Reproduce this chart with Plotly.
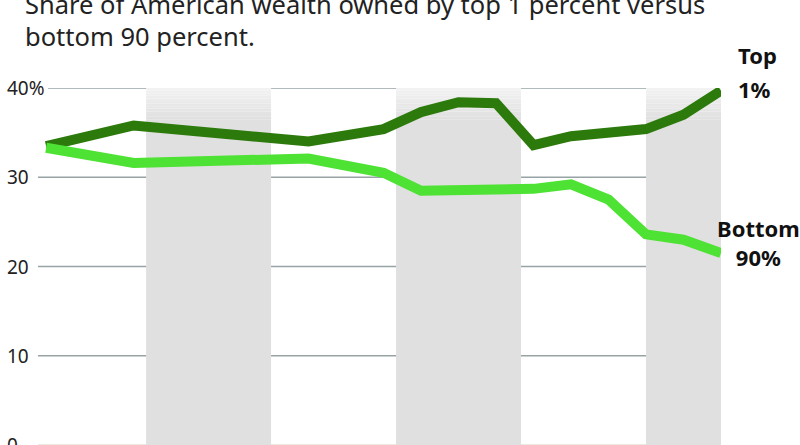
import plotly.graph_objects as go

# ---- data ----
years = [1962, 1969, 1983, 1989, 1992, 1995, 1998, 2001, 2004, 2007, 2010, 2013, 2016]
top1 = [33.5, 35.8, 34.0, 35.4, 37.3, 38.4, 38.3, 33.6, 34.6, 34.9, 35.4, 37.0, 39.7]
bottom90 = [33.3, 31.6, 32.1, 30.5, 28.5, 28.5, 28.5, 28.7, 29.2, 27.5, 23.6, 23.0, 21.5]
y_ticks = [0, 10, 20, 30, 40]
y_tick_labels = ["0", "10", "20", "30", "40%"]
bands = [(1970, 1980), (1990, 2000), (2010, 2016)]
title_lines = ["Share of American wealth owned by top 1 percent versus",
               "bottom 90 percent."]

W, H = 800, 445
L, R, T, B = 38, 79, 88, 0
PW, PH = W - L - R, H - T - B

def px(x):
    return (x - L) / PW

def py(y):
    return (H - B - y) / PH

FONT = "Noto Sans"
DARK = "#2c7a0c"
LIGHT = "#4ee234"
GRID = "#97a3a4"

fig = go.Figure()
fig.add_trace(go.Scatter(x=years, y=top1, mode="lines",
                         line=dict(color=DARK, width=10), hoverinfo="skip"))
fig.add_trace(go.Scatter(x=years, y=bottom90, mode="lines",
                         line=dict(color=LIGHT, width=10), hoverinfo="skip"))

shapes = []
# shaded bands with a soft fade at the top
for x0, x1 in bands:
    shapes.append(dict(type="rect", xref="x", yref="y", x0=x0, x1=x1, y0=0, y1=36.5,
                       fillcolor="#e0e0e0", line=dict(width=0), layer="below"))
    n = 12
    for i in range(n):
        ya = 36.5 + 3.5 * i / n
        yb = 36.5 + 3.5 * (i + 1) / n
        g = int(0xe0 + (0xf3 - 0xe0) * (i + 0.5) / n)
        shapes.append(dict(type="rect", xref="x", yref="y", x0=x0, x1=x1, y0=ya, y1=yb,
                           fillcolor=f"rgb({g},{g},{g})", line=dict(width=0), layer="below"))
# gridlines
for v in y_ticks:
    x0 = px(48) if v == 40 else 0
    col = "#e6e2d6" if v == 0 else GRID
    shapes.append(dict(type="line", xref="paper", yref="y", x0=x0, x1=1, y0=v, y1=v,
                       line=dict(color=col, width=1.6), layer="below"))

ann = []
for v, t in zip(y_ticks, y_tick_labels):
    ann.append(dict(xref="paper", yref="y", x=px(5), y=v, text=t, showarrow=False,
                    xanchor="left", yanchor="middle",
                    font=dict(family=FONT, size=19, color="#222222")))
ann.append(dict(xref="paper", yref="paper", x=px(23), y=py(4), text=title_lines[0],
                showarrow=False, xanchor="left", yanchor="middle",
                font=dict(family=FONT, size=25.5, color="#222222")))
ann.append(dict(xref="paper", yref="paper", x=px(23), y=py(36), text=title_lines[1],
                showarrow=False, xanchor="left", yanchor="middle",
                font=dict(family=FONT, size=25.5, color="#222222")))
ann.append(dict(xref="paper", yref="paper", x=px(736), y=py(55), text="<b>Top</b>",
                showarrow=False, xanchor="left", yanchor="middle",
                font=dict(family=FONT, size=22, color="#111111")))
ann.append(dict(xref="paper", yref="paper", x=px(736), y=py(89), text="<b>1%</b>",
                showarrow=False, xanchor="left", yanchor="middle",
                font=dict(family=FONT, size=22, color="#111111")))
ann.append(dict(xref="paper", yref="paper", x=px(758), y=py(242),
                text="<b>Bottom</b><br><b>90%</b>", align="center",
                showarrow=False, xanchor="center", yanchor="middle",
                font=dict(family=FONT, size=22, color="#111111")))

fig.update_layout(
    width=W, height=H,
    margin=dict(l=L, r=R, t=T, b=B, pad=0),
    paper_bgcolor="white", plot_bgcolor="white",
    showlegend=False,
    shapes=shapes, annotations=ann,
    xaxis=dict(range=[1961.35, 2016], showgrid=False, zeroline=False,
               showticklabels=False, ticks="", showline=False, fixedrange=True),
    yaxis=dict(range=[0, 40], showgrid=False, zeroline=False,
               showticklabels=False, ticks="", showline=False, fixedrange=True),
)

fig.write_html("out.html",
               config=dict(displayModeBar=False),
               post_script="document.body.style.margin='0';document.body.style.overflow='hidden';")
